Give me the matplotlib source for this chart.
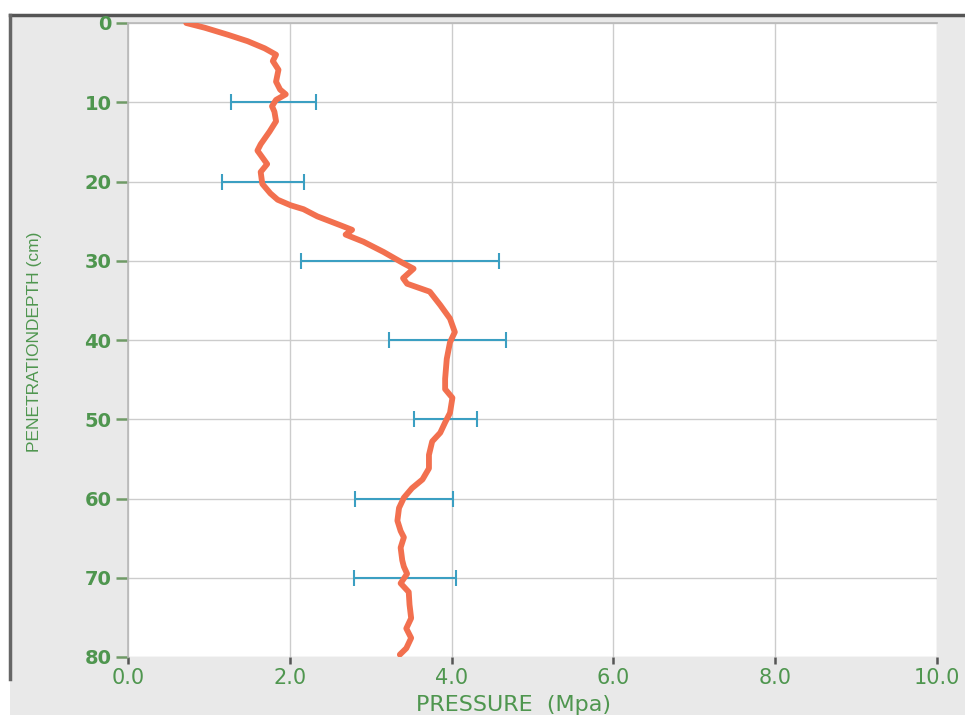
import matplotlib
matplotlib.use("Agg")
import matplotlib.pyplot as plt
from matplotlib.lines import Line2D
from matplotlib.patches import Rectangle

# mean cone resistance profile
depth = [0, 0.6, 1.5, 2.3, 3.2, 4.0, 4.8, 5.9, 7.4, 8.4, 9.0, 9.7, 10.5, 11.2,
         12.4, 13.7, 15.3, 16.1, 17.8, 18.8, 20.3, 21.5, 22.3, 23.0, 23.5, 24.4,
         25.5, 26.1, 26.7, 27.6, 28.9, 30.3, 31.0, 32.2, 32.9, 33.9, 35.6, 37.3,
         39.0, 40.3, 42.4, 44.9, 46.2, 47.3, 49.2, 50.4, 51.7, 52.8, 54.5, 56.2,
         57.6, 58.7, 59.9, 61.2, 62.8, 64.1, 64.9, 66.2, 67.8, 68.6, 69.5, 70.7,
         71.8, 73.4, 75.1, 76.4, 77.6, 78.9, 79.7]
pressure = [0.72, 0.95, 1.24, 1.48, 1.69, 1.83, 1.79, 1.86, 1.83, 1.88, 1.95,
            1.83, 1.78, 1.81, 1.83, 1.75, 1.64, 1.60, 1.72, 1.64, 1.66, 1.76,
            1.85, 2.01, 2.17, 2.34, 2.62, 2.77, 2.69, 2.91, 3.16, 3.40, 3.53,
            3.40, 3.45, 3.73, 3.86, 3.98, 4.04, 3.98, 3.94, 3.92, 3.92, 4.01,
            3.98, 3.92, 3.86, 3.76, 3.72, 3.72, 3.64, 3.51, 3.41, 3.35, 3.33,
            3.37, 3.41, 3.37, 3.39, 3.41, 3.45, 3.37, 3.47, 3.48, 3.50, 3.44,
            3.50, 3.44, 3.36]

# spread at every 10 cm
bar_depth = [10, 20, 30, 40, 50, 60, 70]
bar_mean = [1.795, 1.67, 3.365, 3.95, 3.925, 3.415, 3.425]
bar_err = [0.525, 0.51, 1.225, 0.72, 0.395, 0.605, 0.635]

x_ticks = [0, 2, 4, 6, 8, 10]
x_ticklabels = ["0.0", "2.0", "4.0", "6.0", "8.0", "10.0"]
y_ticks = [0, 10, 20, 30, 40, 50, 60, 70, 80]

green = "#4f964f"

fig = plt.figure(figsize=(9.65, 7.15), dpi=100)
fig.patch.set_facecolor("white")

# grey card behind the chart, with its dark edge on top and left
fig.patches.append(Rectangle((10 / 965, 0), 1, 1 - 15 / 715,
                             transform=fig.transFigure, facecolor="#e9e9e9",
                             edgecolor="none", zorder=-10))
fig.lines.append(Line2D([10 / 965, 1], [1 - 15 / 715] * 2, transform=fig.transFigure,
                        color="#555555", lw=2.5, zorder=-5))
fig.lines.append(Line2D([10 / 965] * 2, [0.05, 1 - 15 / 715], transform=fig.transFigure,
                        color="#666666", lw=2.5, zorder=-5))

ax = fig.add_axes([128 / 965, 1 - 657 / 715, 809 / 965, 634 / 715])
ax.set_facecolor("white")

ax.errorbar(bar_mean, bar_depth, xerr=bar_err, fmt="none", ecolor="#3b9fc2",
            elinewidth=1.5, capsize=5.5, capthick=1.5, zorder=3)
ax.plot(pressure, depth, color="#f2704f", lw=4.2, solid_joinstyle="round",
        solid_capstyle="round", zorder=4)

ax.set_xlim(0, 10)
ax.set_ylim(80, 0)
ax.set_xticks(x_ticks)
ax.set_xticklabels(x_ticklabels)
ax.set_yticks(y_ticks)

ax.grid(True, color="#cccccc", lw=1)
ax.set_axisbelow(True)
for side in ["right", "bottom"]:
    ax.spines[side].set_visible(False)
for side in ["left", "top"]:
    ax.spines[side].set_color("#b8b8b8")
    ax.spines[side].set_linewidth(1.2)

ax.tick_params(axis="x", length=5, width=1.8, color="#555555", pad=3,
               labelsize=15, labelcolor=green)
ax.tick_params(axis="y", length=9, width=1.8, color="#6f9a66", pad=3,
               labelsize=14, labelcolor=green)
for lab in ax.get_yticklabels():
    lab.set_fontweight("bold")

ax.set_xlabel("PRESSURE  (Mpa)", fontsize=16, color=green)
ax.xaxis.set_label_coords(0.477, -0.076)
ax.xaxis.label.set_va("center")

ax.set_ylabel("PENETRATIONDEPTH (cm)", fontsize=12.5, color=green,
              family="Liberation Sans")
ax.yaxis.set_label_coords(-0.115, 0.497)
ax.yaxis.label.set_va("center")
ax.yaxis.label.set_ha("center")

fig.savefig("out.png", dpi=100)
